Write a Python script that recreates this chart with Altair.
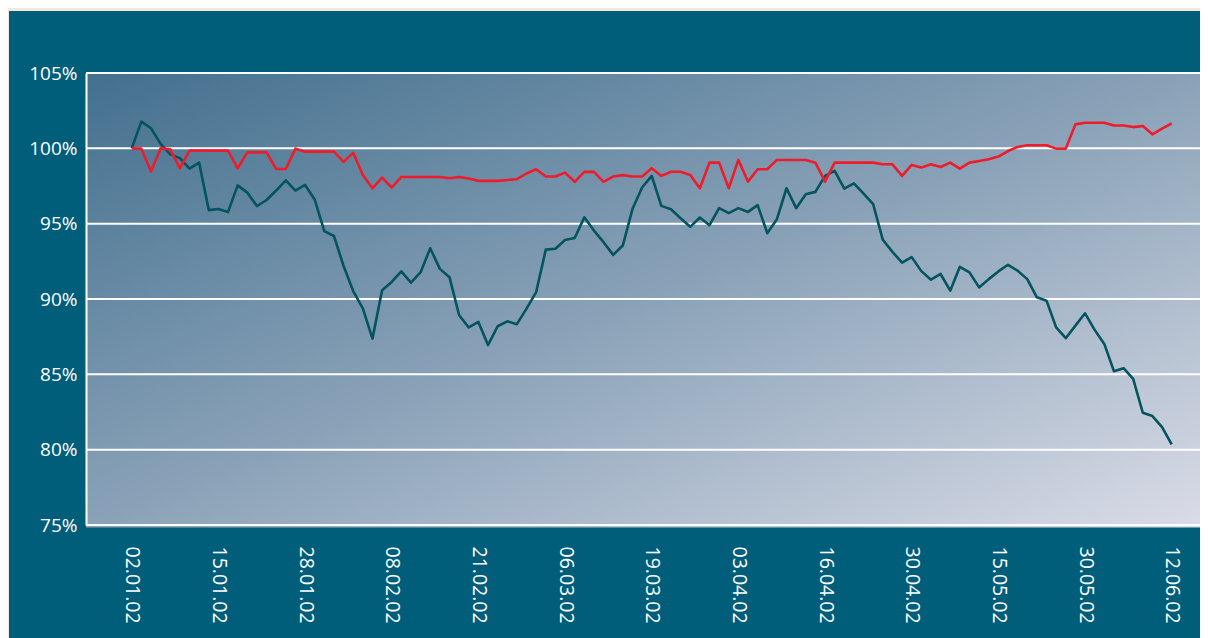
import altair as alt
import pandas as pd

# ---- data ----
x_labels = ["02.01.02", "15.01.02", "28.01.02", "08.02.02", "21.02.02", "06.03.02",
            "19.03.02", "03.04.02", "16.04.02", "30.04.02", "15.05.02", "30.05.02", "12.06.02"]
label_step = 9  # one label every 9 trading days

series_names = ["Serie A", "Serie B"]

teal_values = [
    100.0, 101.77, 101.33, 100.3, 99.6, 99.35, 98.65, 99.05, 95.9, 95.97,
    95.77, 97.54, 97.06, 96.17, 96.57, 97.2, 97.88, 97.2, 97.57, 96.6,
    94.5, 94.18, 92.19, 90.53, 89.38, 87.37, 90.58, 91.13,
    91.83, 91.08, 91.78, 93.37, 92.0, 91.45, 88.92, 88.11, 88.48, 86.94,
    88.19, 88.52, 88.33, 89.36, 90.46, 93.28, 93.33, 93.92, 94.05, 95.42,
    94.54, 93.77, 92.93, 93.55, 95.97, 97.4, 98.17,
    96.18, 95.96, 95.36, 94.79, 95.41, 94.9, 96.03, 95.7, 96.03, 95.78,
    96.23, 94.37, 95.3, 97.35, 96.03, 96.95, 97.11, 98.17, 98.5, 97.33,
    97.68, 97.0, 96.29, 93.93, 93.13, 92.41, 92.78, 91.85,
    91.28, 91.66, 90.55, 92.14, 91.77, 90.77, 91.32, 91.83, 92.27, 91.88,
    91.32, 90.11, 89.89, 88.12, 87.4, 88.23, 89.05, 87.95, 87.02, 85.21,
    85.41, 84.7, 82.45, 82.23, 81.5, 80.35,
]

red_values = [
    100.0, 99.98, 98.47, 100.0, 99.93, 98.67, 99.85, 99.85, 99.85, 99.85,
    99.85, 98.67, 99.73, 99.73, 99.73, 98.63, 98.63, 99.98, 99.78, 99.78,
    99.78, 99.78, 99.1, 99.7, 98.23, 97.35, 98.05, 97.4,
    98.1, 98.1, 98.1, 98.1, 98.1, 98.02, 98.1, 98.0, 97.84, 97.84,
    97.84, 97.9, 97.95, 98.33, 98.61, 98.13, 98.13, 98.39, 97.78, 98.44,
    98.44, 97.78, 98.13, 98.22, 98.13, 98.13, 98.68,
    98.17, 98.45, 98.45, 98.23, 97.35, 99.05, 99.05, 97.35, 99.23, 97.79,
    98.61, 98.61, 99.23, 99.23, 99.23, 99.23, 99.05, 97.79, 99.05, 99.05,
    99.05, 99.05, 99.05, 98.94, 98.94, 98.17, 98.9, 98.72,
    98.94, 98.76, 99.05, 98.65, 99.05, 99.16, 99.27, 99.45, 99.82, 100.09,
    100.2, 100.2, 100.2, 99.98, 99.98, 101.59, 101.7, 101.7, 101.7, 101.52,
    101.52, 101.41, 101.48, 100.93, 101.3, 101.66,
]

y_ticks = [75, 80, 85, 90, 95, 100, 105]

# ---- tables ----
n = len(teal_values)
lines_df = pd.DataFrame({
    "idx": list(range(n)) * 2,
    "value": teal_values + red_values,
    "series": [series_names[0]] * n + [series_names[1]] * n,
})
grid_df = pd.DataFrame({"tick": y_ticks})
one_df = pd.DataFrame({"a": [0]})

W, H = 1114, 452
FONT = "Open Sans"
label_positions = [i * label_step for i in range(len(x_labels))]
label_array = "[" + ",".join("'" + s + "'" for s in x_labels) + "]"

xscale = alt.Scale(domain=[-4.75, 110.94], nice=False, zero=False)
yscale = alt.Scale(domain=[75, 105], nice=False, zero=False)

y_axis = alt.Axis(
    values=y_ticks,
    labelExpr="datum.value + '%'",
    labelFontSize=19,
    labelColor="white",
    labelFont=FONT,
    labelPadding=9,
    labelOverlap=False,
    labelBound=False,
    labelFlush=False,
    ticks=False,
    domain=True,
    domainColor="white",
    domainWidth=2,
    grid=False,
    title=None,
    zindex=1,
)

x_axis = alt.Axis(
    values=label_positions,
    labelExpr=label_array + "[round(datum.value / " + str(label_step) + ")]",
    labelAngle=90,
    labelAlign="left",
    labelBaseline="middle",
    labelPadding=21,
    labelFontSize=19.5,
    labelColor="white",
    labelFont=FONT,
    labelOverlap=False,
    labelBound=False,
    labelFlush=False,
    ticks=False,
    domain=False,
    grid=False,
    title=None,
    zindex=1,
)

panel = alt.Chart(one_df).mark_rect(color="#005e7b").encode(
    x=alt.value(-77), x2=alt.value(W + 5), y=alt.value(-62), y2=alt.value(H + 120)
)

plot_bg = alt.Chart(one_df).mark_rect(
    color=alt.Gradient(
        gradient="linear",
        stops=[
            alt.GradientStop(color="#43708e", offset=0),
            alt.GradientStop(color="#8aa2b8", offset=0.5),
            alt.GradientStop(color="#dadce7", offset=1),
        ],
        x1=0, y1=0, x2=1, y2=1,
    )
).encode(x=alt.value(0), x2=alt.value(W + 5), y=alt.value(0), y2=alt.value(H + 2.5))

grid = alt.Chart(grid_df).mark_rule(color="white", strokeWidth=2).encode(
    y=alt.Y("tick:Q", scale=yscale, axis=y_axis),
    x=alt.value(0),
    x2=alt.value(W + 5),
)

lines = alt.Chart(lines_df).mark_line(strokeWidth=2.6, strokeJoin="round").encode(
    x=alt.X("idx:Q", scale=xscale, axis=x_axis),
    y=alt.Y("value:Q", scale=yscale, axis=y_axis),
    color=alt.Color(
        "series:N",
        scale=alt.Scale(domain=series_names, range=["#04545f", "#ee1c2b"]),
        legend=None,
    ),
    order=alt.Order("idx:Q"),
)

chart = alt.layer(panel, plot_bg, grid, lines).properties(
    width=W,
    height=H,
    background="#f2e9d8",
    padding={"left": 78, "top": 65, "right": 0, "bottom": 113},
    autosize=alt.AutoSizeParams(type="none"),
).configure_view(stroke=None)

chart.save("out.html", embed_options={"renderer": "svg", "actions": False})
